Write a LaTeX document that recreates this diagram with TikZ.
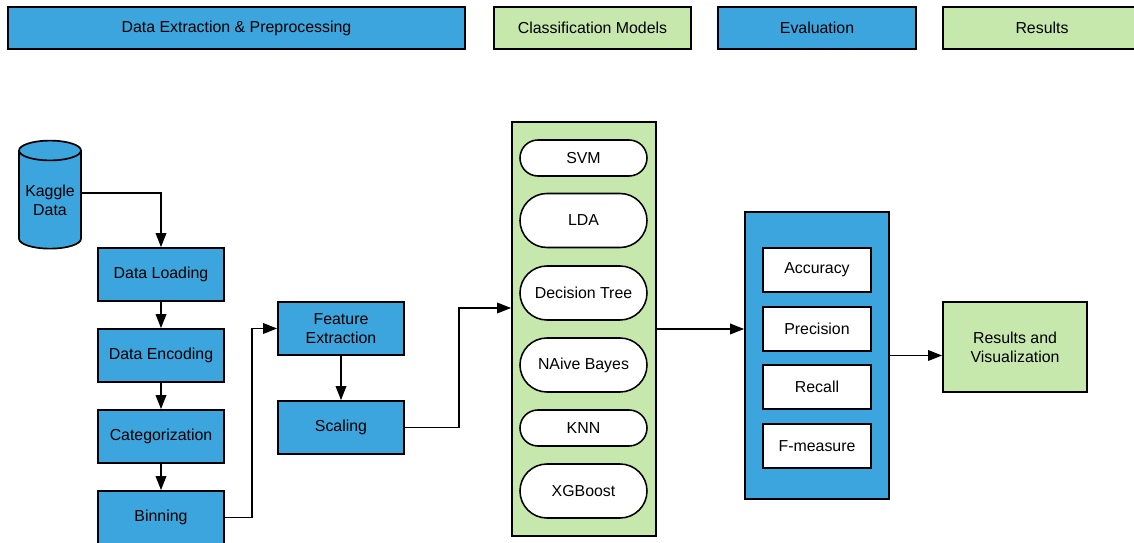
\documentclass[tikz,border=0pt]{standalone}
\usepackage{fontspec}
\setmainfont{Liberation Sans}
\usepackage{tikz}
\usetikzlibrary{positioning,shapes.geometric,shapes.misc,arrows.meta}
\definecolor{stageblue}{RGB}{61,165,221}
\definecolor{stagegreen}{RGB}{199,232,172}

\begin{document}
\begin{tikzpicture}[
x=0.025cm, y=-0.025cm,
font=\fontsize{11.3}{13.5}\selectfont,
header/.style={rectangle, draw=black, line width=1.2pt, minimum height=1.05cm, inner sep=0pt},
stepbox/.style={rectangle, draw=black, line width=1.2pt, fill=stageblue, minimum width=3.15cm, minimum height=1.325cm, inner sep=0pt, align=center},
group/.style={rectangle, draw=black, line width=1.2pt, minimum width=3.6cm, inner sep=0pt},
model/.style={rounded rectangle, draw=black, line width=1.1pt, fill=white, minimum width=3.175cm, inner sep=0pt},
metric/.style={rectangle, draw=black, line width=1.1pt, fill=white, minimum width=2.7cm, minimum height=1.1cm, inner sep=0pt},
arrow/.style={-{Triangle[length=10pt,width=7.5pt]}, line width=1.2pt}
]
\useasboundingbox (0,0) rectangle (1134,543);

%Headers
\node[header, fill=stageblue, minimum width=11.425cm] (h_prep) at (236.5,28) {Data Extraction \& Preprocessing};
\node[header, fill=stagegreen, minimum width=4.925cm] (h_models) at (592.5,28) {Classification Models};
\node[header, fill=stageblue, minimum width=4.95cm] (h_eval) at (817,28) {Evaluation};
\node[header, fill=stagegreen, minimum width=4.95cm] (h_res) at (1042,28) {Results};

%Preprocessing
\node[cylinder, shape border rotate=90, aspect=0.4, draw=black, line width=1.2pt, fill=stageblue, minimum width=1.55cm, minimum height=2.7cm, inner sep=0pt, align=center] (kaggle) at (50,200) {Kaggle\\Data};
\node[stepbox] (load) at (161,274.5) {Data Loading};
\node[stepbox] (enc) at (161,355.5) {Data Encoding};
\node[stepbox] (cat) at (161,436.5) {Categorization};
\node[stepbox] (bin) at (161,517.5) {Binning};
\node[stepbox] (feat) at (341,328.5) {Feature\\Extraction};
\node[stepbox] (scal) at (341,427.5) {Scaling};

%Models
\node[group, fill=stagegreen, minimum height=10.35cm] (models) at (584,329) {};
\node[model, minimum height=0.9cm] (svm) at (583.5,158) {SVM};
\node[model, minimum height=1.35cm] (lda) at (583.5,220.5) {LDA};
\node[model, minimum height=1.35cm] (dtree) at (583.5,293) {Decision Tree};
\node[model, minimum height=1.35cm] (nbayes) at (583.5,365) {NAive Bayes};
\node[model, minimum height=0.9cm] (knn) at (583.5,428) {KNN};
\node[model, minimum height=1.35cm] (xgb) at (583.5,491) {XGBoost};

%Evaluation
\node[group, fill=stageblue, minimum height=7.175cm] (eval) at (817,355.5) {};
\node[metric] (acc) at (817,270) {Accuracy};
\node[metric] (prec) at (817,329) {Precision};
\node[metric] (rec) at (817,387) {Recall};
\node[metric] (fmeas) at (817,446) {F-measure};

%Results
\node[group, fill=stagegreen, minimum height=2.25cm, align=center] (res) at (1015,347) {Results and\\Visualization};

%Connections
\coordinate (modin) at (models.west |- 0,308);
\draw[arrow] (kaggle.east |- 0,193) -| (load.north);
\draw[arrow] (load) -- (enc);
\draw[arrow] (enc) -- (cat);
\draw[arrow] (cat) -- (bin);
\draw[arrow] (bin.east) -- ++(27,0) |- (feat.west);
\draw[arrow] (feat) -- (scal);
\draw[arrow] (scal.east) -- ++(54,0) |- (modin);
\draw[arrow] (models.east) -- (models.east -| eval.west);
\draw[arrow] (eval.east) -- (eval.east -| res.west);
\end{tikzpicture}
\end{document}
